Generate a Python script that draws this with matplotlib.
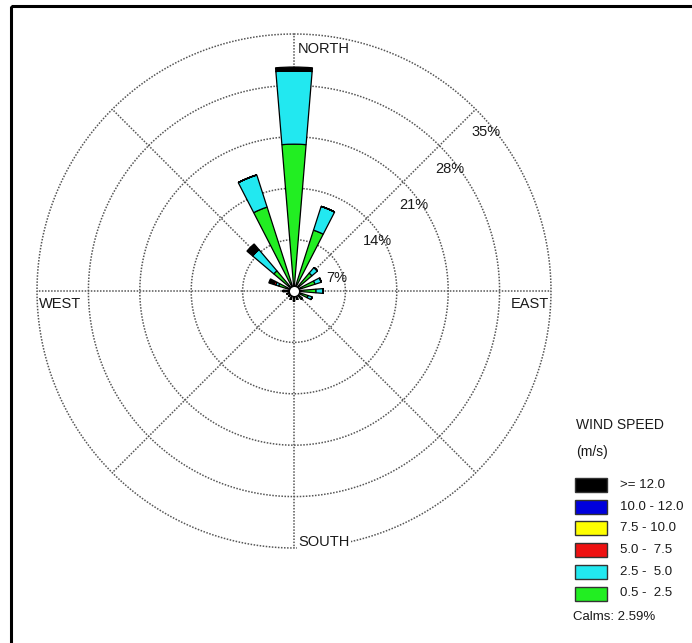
import numpy as np
import matplotlib
matplotlib.use("Agg")
import matplotlib.pyplot as plt
from matplotlib.patches import Rectangle

plt.rcParams['font.family'] = ['Liberation Sans', 'DejaVu Sans']

# ---------------- data ----------------
directions_deg = [0, 22.5, 45, 67.5, 90, 112.5, 135, 157.5,
                  180, 202.5, 225, 247.5, 270, 292.5, 315, 337.5]
# frequencies (%) per speed class
freq_05_25 = [20.0, 8.7, 3.2, 3.0, 3.0, 2.0, 1.5, 1.2, 1.4, 1.2, 1.0, 1.0, 1.2, 2.2, 3.6, 12.0]
freq_25_50 = [10.0, 3.4, 1.0, 0.9, 1.0, 0.6, 0.0, 0.0, 0.0, 0.0, 0.0, 0.0, 0.3, 0.4, 3.8, 4.6]
freq_50_75 = [0.0, 0.0, 0.0, 0.0, 0.0, 0.0, 0.0, 0.0, 0.0, 0.0, 0.0, 0.0, 0.0, 0.3, 0.0, 0.0]
freq_75_100 = [0.0] * 16
freq_100_120 = [0.0] * 16
freq_ge_120 = [0.5, 0.0, 0.0, 0.0, 0.0, 0.0, 0.0, 0.0, 0.0, 0.0, 0.0, 0.0, 0.0, 0.7, 1.0, 0.0]

speed_labels = ["0.5 -  2.5", "2.5 -  5.0", "5.0 -  7.5", "7.5 - 10.0", "10.0 - 12.0", ">= 12.0"]
speed_colors = ["#22ee22", "#22e8f0", "#ee1111", "#ffff00", "#0000dd", "#000000"]
ring_values = [7, 14, 21, 28, 35]
ring_labels = ["7%", "14%", "21%", "28%", "35%"]
compass_labels = ["NORTH", "EAST", "SOUTH", "WEST"]
calms_pct = 2.59

# ---------------- figure ----------------
W, H = 692, 643
fig = plt.figure(figsize=(W / 100, H / 100), dpi=100)
fig.patch.set_facecolor("white")

cx, cy, R = 294, 291, 257
ax = fig.add_axes([(cx - R) / W, 1 - (cy + R) / H, 2 * R / W, 2 * R / H], projection="polar")
ax.set_theta_zero_location("N")
ax.set_theta_direction(-1)
ax.set_ylim(0, 35)
ax.grid(False)
ax.set_xticks([])
ax.set_yticks([])
ax.spines["polar"].set_visible(False)
ax.patch.set_alpha(0)

# grid rings and spokes
gcol = "#555555"
tt = np.linspace(0, 2 * np.pi, 720)
for rv in ring_values:
    ax.plot(tt, np.full_like(tt, rv), color=gcol, lw=1.1, ls=(0, (1, 1)), zorder=1, clip_on=False)
for a in range(0, 360, 45):
    ax.plot([np.deg2rad(a)] * 2, [0, 35], color=gcol, lw=1.1, ls=(0, (1, 1)), zorder=1, clip_on=False)

# stacked bars
theta = np.deg2rad(directions_deg)
series = [freq_05_25, freq_25_50, freq_50_75, freq_75_100, freq_100_120, freq_ge_120]
bottom = np.zeros(16)
for vals, col in zip(series, speed_colors):
    v = np.array(vals)
    ax.bar(theta, v, width=0.165, bottom=bottom, color=col, edgecolor="black",
           linewidth=0.9, zorder=3)
    bottom = bottom + v

# calm circle
ax.plot([0], [0], "o", ms=7.5, mfc="white", mec="black", mew=1.0, zorder=5)

# ring labels along NE diagonal
for rv, lab in zip(ring_values, ring_labels):
    ax.annotate(lab, xy=(np.deg2rad(45), rv), xytext=(-4, -23), textcoords="offset pixels",
                ha="left", va="center", fontsize=10.5, color="#1a1a1a", zorder=6)

# overlay axes in pixel coords for compass labels, legend and frame
ov = fig.add_axes([0, 0, 1, 1])
ov.set_xlim(0, W)
ov.set_ylim(H, 0)
ov.axis("off")
ov.patch.set_alpha(0)

tkw = dict(fontsize=10.5, color="#1a1a1a")
ov.text(298, 49, compass_labels[0], ha="left", va="center", **tkw)
ov.text(549, 304, compass_labels[1], ha="right", va="center", **tkw)
ov.text(298, 542, compass_labels[2], ha="left", va="center",
        bbox=dict(facecolor="white", edgecolor="none", pad=1), **tkw)
ov.text(39, 304, compass_labels[3], ha="left", va="center", **tkw)

# frame
ov.add_patch(Rectangle((10.5, 5.5), 800, 800, fill=False, edgecolor="black", lw=2.2))

# legend
lkw = dict(fontsize=10, color="#1a1a1a")
ov.text(576, 425, "WIND SPEED", ha="left", va="center", **lkw)
ov.text(576, 452, "(m/s)", ha="left", va="center", **lkw)
y0, dy = 485, 21.7
for i, (lab, col) in enumerate(zip(speed_labels[::-1], speed_colors[::-1])):
    yc = y0 + i * dy
    ov.add_patch(Rectangle((575, yc - 7), 32, 14, facecolor=col, edgecolor="#333333", lw=1.0))
    ov.text(620, yc, lab, ha="left", va="center", fontsize=9.5, color="#1a1a1a")
ov.text(573, 617, f"Calms: {calms_pct:.2f}%", ha="left", va="center", fontsize=9.5, color="#1a1a1a")

fig.savefig("out.png", dpi=100, facecolor="white")
